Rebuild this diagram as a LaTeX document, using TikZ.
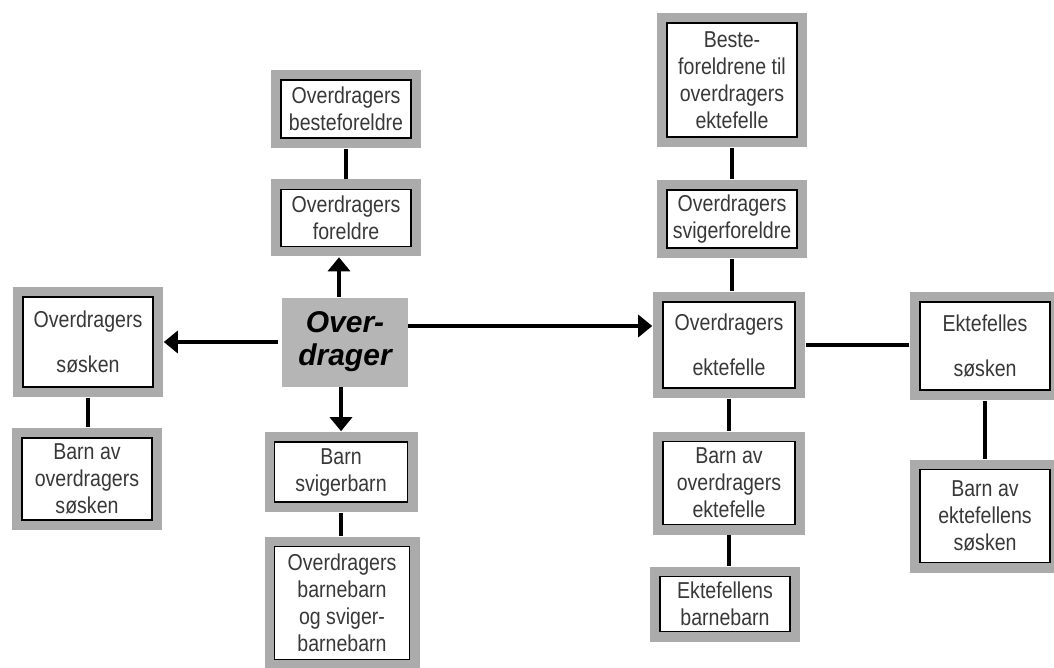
\documentclass[tikz,border=0pt]{standalone}
\usepackage{fontspec}
\setmainfont{Liberation Sans}[FakeStretch=0.85]
\newfontfamily\centfont{Liberation Sans}
\usetikzlibrary{arrows.meta}

\definecolor{framegray}{HTML}{ABABAB}
\definecolor{centgray}{HTML}{B5B5B5}

\tikzset{
    person/.style={draw=black, line width=0.7pt, fill=white, text=black!78,
        preaction={draw=framegray, line width=10pt},
        minimum width=65pt, inner sep=1pt, outer sep=5.4pt, align=center,
        font=\fontsize{11.5}{13.5}\selectfont},
    cent/.style={fill=centgray, minimum width=63pt, minimum height=44.5pt,
        inner sep=0pt, align=center,
        font=\centfont\bfseries\itshape\fontsize{15}{16.5}\selectfont},
    link/.style={line width=2.2pt},
    arr/.style={line width=2.2pt, -{Triangle[length=7pt,width=11pt]}},
}

\begin{document}
\begin{tikzpicture}[x=0.5pt,y=-0.5pt]
        \useasboundingbox (0,0) rectangle (1054,668);

        % overdrager side
        \node[person, minimum height=29pt] (besteforeldre) at (346,109) {Overdragers\\besteforeldre};
        \node[person, minimum height=28.5pt] (foreldre) at (346,218) {Overdragers\\foreldre};
        \node[cent] (overdrager) at (345,342) {Over-\\drager};
        \node[person, minimum height=45pt] (sosken) at (88,342) {Overdragers\\[9pt]søsken};
        \node[person, minimum height=41pt] (soskenbarn) at (87,479) {Barn av\\overdragers\\søsken};
        \node[person, minimum width=66.5pt, minimum height=30pt] (barn) at (341,472) {Barn\\svigerbarn};
        \node[person, minimum width=67.5pt, minimum height=56.5pt] (barnebarn) at (342,603) {Overdragers\\barnebarn\\og sviger-\\barnebarn};

        % ektefelle side
        \node[person, minimum height=57pt] (ektebeste) at (732,80) {Beste-\\foreldrene til\\overdragers\\ektefelle};
        \node[person, minimum height=29pt] (svigerforeldre) at (732,219) {Overdragers\\svigerforeldre};
        \node[person, minimum width=66pt, minimum height=43pt] (ektefelle) at (729,345) {Overdragers\\[9pt]ektefelle};
        \node[person, minimum height=44pt] (ektesosken) at (985,346) {Ektefelles\\[9pt]søsken};
        \node[person, minimum height=46.5pt] (ektesoskenbarn) at (985,516) {Barn av\\ektefellens\\søsken};
        \node[person, minimum width=66pt, minimum height=41.5pt] (ektebarn) at (729,483) {Barn av\\overdragers\\ektefelle};
        \node[person, minimum height=27.5pt] (ektebarnebarn) at (725,604) {Ektefellens\\barnebarn};

        \foreach \a/\b in {besteforeldre/foreldre, sosken/soskenbarn, barn/barnebarn,
                ektebeste/svigerforeldre, svigerforeldre/ektefelle, ektefelle/ektebarn,
                ektebarn/ektebarnebarn, ektesosken/ektesoskenbarn} {
                \draw[link] (\a.south) -- (\a.south |- \b.north);
            }
        \draw[link] (ektefelle.east) -- (ektefelle.east -| ektesosken.west);

        \draw[arr] ([xshift=-3pt]overdrager.north) -- ([xshift=-3pt]overdrager.north |- foreldre.south);
        \draw[arr] ([xshift=-2pt]overdrager.south) -- ([xshift=-2pt]overdrager.south |- barn.north);
        \draw[arr] ([xshift=-2pt]overdrager.west) -- (overdrager.west -| sosken.east);
        \draw[arr] ([yshift=8pt]overdrager.east) -- ([yshift=8pt]overdrager.east -| ektefelle.west);

    \end{tikzpicture}
\end{document}
